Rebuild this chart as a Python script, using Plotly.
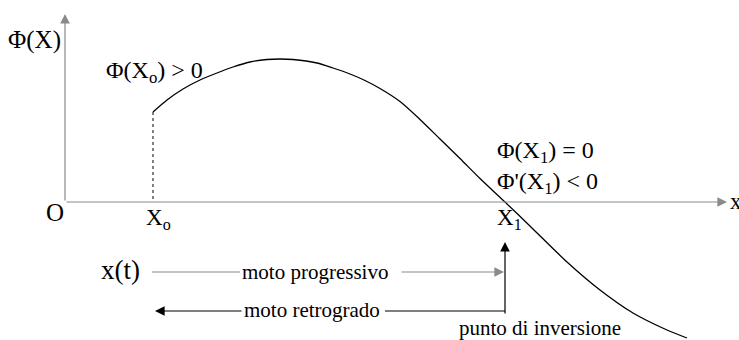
import plotly.graph_objects as go

# Φ(x) curve, sampled points (diagram coordinates: x to the right, y downward)
curve_x = [153, 167, 183, 200, 217, 233, 250, 267, 280, 293, 317, 333, 350, 365,
           380, 400, 420, 440, 460, 480, 505, 533, 567, 600, 633, 667, 687]
curve_y = [112, 100, 89, 80, 73, 67, 62, 59.5, 59, 59.5, 63, 68, 74, 80.5,
           88.5, 101.5, 119.5, 139, 158.5, 178.5, 202, 229, 262, 290, 313, 330, 338]

# Key abscissae on the x axis
origin_x = 65
x0 = 153
x1 = 505
axis_y = 202

# Text labels
lbl_phi = "Φ(X)"
lbl_phi_x0 = "Φ(X<sub>o</sub>) > 0"
lbl_phi_x1 = "Φ(X<sub>1</sub>) = 0"
lbl_dphi_x1 = "Φ'(X<sub>1</sub>) < 0"
lbl_origin = "O"
lbl_x0 = "X<sub>o</sub>"
lbl_x1 = "X<sub>1</sub>"
lbl_xaxis = "x"
lbl_xt = "x(t)"
lbl_prog = "moto progressivo"
lbl_retro = "moto retrogrado"
lbl_inv = "punto di inversione"

SERIF = "Liberation Serif, Times New Roman, serif"
GRAY = "#8a8a8a"

fig = go.Figure()

# The curve itself
fig.add_trace(go.Scatter(
    x=curve_x, y=curve_y, mode="lines",
    line=dict(color="black", width=1.3, shape="spline", smoothing=0.8),
    hoverinfo="skip", showlegend=False,
))

shapes = [
    # dotted drop from Φ(x0) to the axis
    dict(type="line", x0=x0, x1=x0, y0=curve_y[0], y1=axis_y,
         line=dict(color="black", width=1, dash="dot")),
    # progressive motion line (before the label)
    dict(type="line", x0=152, x1=240, y0=272, y1=272, line=dict(color=GRAY, width=1.2)),
    # retrograde motion line (after the label)
    dict(type="line", x0=385, x1=x1, y0=311, y1=311, line=dict(color="black", width=1.2)),
]

anns = []

def arrow(hx, hy, tx, ty, color, width=1.2, size=1.6):
    anns.append(dict(x=hx, y=hy, ax=tx, ay=ty, xref="x", yref="y", axref="x", ayref="y",
                     text="", showarrow=True, arrowhead=2, arrowsize=size,
                     arrowwidth=width, arrowcolor=color, standoff=0, startstandoff=0))

# axes
arrow(727, axis_y, origin_x, axis_y, GRAY)
arrow(origin_x, 14, origin_x, axis_y, GRAY)
# progressive arrow towards the inversion point
arrow(x1 - 1, 272, 400, 272, GRAY)
# vertical arrow marking the inversion point
arrow(x1, 242, x1, 315, "black")
# retrograde arrow
arrow(155, 311, 243, 311, "black")

def label(txt, x, y, size, xanchor="left"):
    anns.append(dict(x=x, y=y, xref="x", yref="y", text=txt, showarrow=False,
                     xanchor=xanchor, yanchor="middle",
                     font=dict(family=SERIF, size=size, color="black")))

label(lbl_phi, 6, 40, 25)
label(lbl_phi_x0, 104, 72, 24)
label(lbl_phi_x1, 495, 152, 24)
label(lbl_dphi_x1, 495, 183, 24)
label(lbl_origin, 44, 212, 25)
label(lbl_x0, 144, 219, 23)
label(lbl_x1, 495, 219, 23)
label(lbl_xaxis, 728, 201, 23)
label(lbl_xt, 99, 270, 27)
label(lbl_prog, 315, 272, 21, "center")
label(lbl_retro, 312, 310, 21, "center")
label(lbl_inv, 540, 328, 21, "center")

fig.update_layout(
    width=739, height=340,
    margin=dict(l=0, r=0, t=0, b=0),
    paper_bgcolor="white", plot_bgcolor="white",
    xaxis=dict(range=[0, 739], visible=False, fixedrange=True),
    yaxis=dict(range=[340, 0], visible=False, fixedrange=True),
    shapes=shapes, annotations=anns,
)

fig.write_html("out.html")
